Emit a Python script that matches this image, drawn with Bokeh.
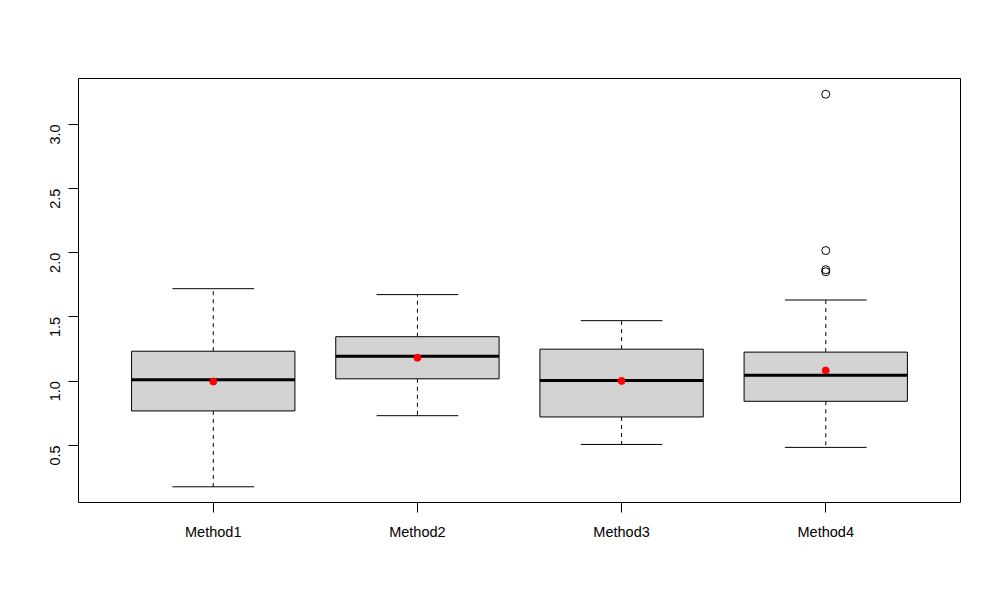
import math
from bokeh.plotting import figure
from bokeh.models import FixedTicker, Range1d, ColumnDataSource
from bokeh.embed import file_html
from bokeh.resources import INLINE

# ---- data ----
categories = ["Method1", "Method2", "Method3", "Method4"]
lower_whisker = [0.177, 0.731, 0.507, 0.484]
q1 = [0.768, 1.018, 0.721, 0.843]
median = [1.010, 1.194, 1.005, 1.046]
q3 = [1.233, 1.346, 1.249, 1.226]
upper_whisker = [1.720, 1.674, 1.471, 1.632]
means = [0.997, 1.182, 1.002, 1.083]
outlier_group = ["Method4", "Method4", "Method4", "Method4"]
outlier_values = [3.235, 2.017, 1.868, 1.852]
y_ticks = [0.5, 1.0, 1.5, 2.0, 2.5, 3.0]
y_tick_labels = ["0.5", "1.0", "1.5", "2.0", "2.5", "3.0"]

FONT = "Liberation Sans"

xpos = [i + 1 for i in range(len(categories))]
pos_of = {c: i + 1 for i, c in enumerate(categories)}
out_x = [pos_of[g] for g in outlier_group]

# R-style axis ranges (4% extension)
all_vals = lower_whisker + upper_whisker + outlier_values
ymin, ymax = min(all_vals), max(all_vals)
ext = (ymax - ymin) * 0.04
xlo, xhi = 0.5, len(categories) + 0.5
xext = (xhi - xlo) * 0.04

p = figure(width=1000, height=600, output_backend="svg", toolbar_location=None,
           x_range=Range1d(xlo - xext, xhi + xext),
           y_range=Range1d(ymin - ext, ymax + ext),
           min_border_left=78, min_border_right=40,
           min_border_top=78, min_border_bottom=98)
p.xgrid.visible = False
p.ygrid.visible = False
p.outline_line_color = "black"
p.outline_line_width = 1
p.background_fill_color = "white"
p.border_fill_color = "white"

src = ColumnDataSource(dict(x=xpos, lw=lower_whisker, q1=q1, med=median,
                            q3=q3, uw=upper_whisker, mean=means))

# whiskers (dashed)
p.segment(x0="x", y0="q3", x1="x", y1="uw", source=src, line_color="black",
          line_width=1, line_dash="4 4")
p.segment(x0="x", y0="q1", x1="x", y1="lw", source=src, line_color="black",
          line_width=1, line_dash="4 4")
# caps
caps_w = 0.2
p.segment(x0=[x - caps_w for x in xpos], y0=upper_whisker,
          x1=[x + caps_w for x in xpos], y1=upper_whisker,
          line_color="black", line_width=1)
p.segment(x0=[x - caps_w for x in xpos], y0=lower_whisker,
          x1=[x + caps_w for x in xpos], y1=lower_whisker,
          line_color="black", line_width=1)
# boxes
p.vbar(x="x", bottom="q1", top="q3", width=0.8, source=src,
       fill_color="#D3D3D3", line_color="black", line_width=1)
# medians
p.segment(x0=[x - 0.4 for x in xpos], y0=median,
          x1=[x + 0.4 for x in xpos], y1=median,
          line_color="black", line_width=3)
# outliers
p.scatter(out_x, outlier_values, size=8, fill_color=None,
          line_color="black", line_width=1)
# means
p.scatter("x", "mean", source=src, size=7, fill_color="red", line_color="red")

# axes
p.xaxis.ticker = FixedTicker(ticks=xpos)
p.xaxis.major_label_overrides = {x: c for x, c in zip(xpos, categories)}
p.yaxis.ticker = FixedTicker(ticks=y_ticks)
p.yaxis.major_label_overrides = {t: s for t, s in zip(y_ticks, y_tick_labels)}
p.yaxis.major_label_orientation = math.pi / 2
for ax in (p.xaxis[0], p.yaxis[0]):
    ax.axis_line_color = None
    ax.major_tick_line_color = "black"
    ax.major_tick_out = 10
    ax.major_tick_in = 0
    ax.minor_tick_line_color = None
    ax.major_label_text_font = FONT
    ax.major_label_text_font_size = "14.5px"
    ax.major_label_text_color = "black"
p.xaxis.major_label_standoff = 11
p.yaxis.major_label_standoff = 13

open("out.html", "w").write(file_html(p, INLINE))
